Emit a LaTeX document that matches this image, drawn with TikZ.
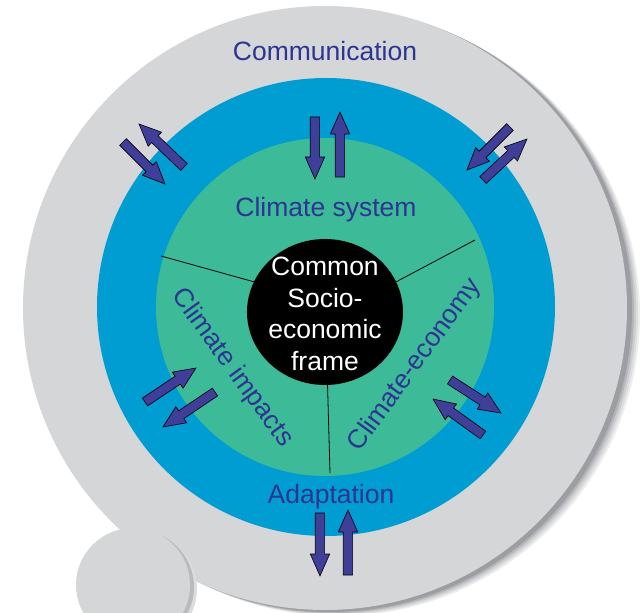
\documentclass[tikz,border=0pt]{standalone}
\usepackage{fontspec}
\setmainfont{Liberation Sans}
\usetikzlibrary{calc,shapes.geometric}
\definecolor{ringgray}{RGB}{213,214,216}
\definecolor{ringshade}{RGB}{140,141,145}
\definecolor{ringblue}{RGB}{0,157,210}
\definecolor{ringgreen}{RGB}{61,187,153}
\definecolor{arrowblue}{RGB}{63,63,153}
\definecolor{labelblue}{RGB}{45,52,145}
%% block arrow from tail #1 to tip #2
\newcommand{\blockarrow}[2]{%
  \coordinate (ba-h) at ($(#2)!22pt!(#1)$);
  \filldraw[arrowdecorate]
    ($(#1)!4.7pt!90:(#2)$) -- ($(ba-h)!4.7pt!90:(#2)$) -- ($(ba-h)!9.7pt!90:(#2)$)
    -- (#2) -- ($(ba-h)!9.7pt!-90:(#2)$) -- ($(ba-h)!4.7pt!-90:(#2)$)
    -- ($(#1)!4.7pt!-90:(#2)$) -- cycle;
}
\begin{document}
\begin{tikzpicture}
[x=1pt,y=1pt,
  ringlabel/.style={text=labelblue,font=\fontsize{26.5}{31.7}\selectfont,inner sep=0pt},%
  corenode/.style={shape=ellipse,fill=black,minimum width=156pt,minimum height=146pt,inner sep=0pt},%
  coretext/.style={text=white,align=center,font=\fontsize{26.5}{31.7}\selectfont,inner sep=0pt},%
  divider/.style={-,line width=0.8pt},%
  arrowdecorate/.style={fill=arrowblue,draw=black,line width=0.6pt,line join=miter}]
\useasboundingbox (-325,-305) rectangle (315,308);
\clip (-325,-305) rectangle (315,308);
%% rings, with a soft shadow
\foreach \dx/\dy/\shade in {13/-6/15, 11/-5/30, 9/-4/45, 7/-3/65, 5/-2/85} {
  \fill[ringshade!\shade] (\dx,\dy) circle (302);
}
\fill[ringgray] (0,0) circle (302);
\fill[ringshade!30] (-185,-281) circle (57);
\fill[ringshade!60] (-188,-279) circle (57);
\fill[ringgray] (-192,-277) circle (57);
\fill[ringblue] (1,1) circle (229);
\fill[ringgreen] (0,1) circle (169);
%% core and the three sectors
\node (core) at (0,-4) [corenode] {};
\node (frame) at (0,-6) [coretext] {Common\\Socio-\\economic\\frame};
\coordinate (cut-ul) at (-164,52);
\coordinate (cut-ur) at (150,68);
\coordinate (cut-b) at (5,-165);
\draw[divider] (core.157) -- (cut-ul);
\draw[divider] (core.23) -- (cut-ur);
\draw[divider] (core.272) -- (cut-b);
%% labels
\node (comm) at (0,247) [ringlabel,anchor=base] {Communication};
\node (climsys) at (1,91) [ringlabel,anchor=base] {Climate system};
\node (adapt) at (6,-195) [ringlabel,anchor=base] {Adaptation};
\node (impacts) at (-93,-60) [ringlabel,rotate=-54] {Climate impacts};
\node (economy) at (90,-57) [ringlabel,rotate=54] {Climate-economy};
%% arrows between the rings
\foreach \arrowname/\tx/\ty/\hx/\hy in {topin/-10/191/-10/129,
  topout/15/131/15/196, botin/-5/-205/-5/-268, botout/23/-267/23/-202,
  ulin/-202/166/-160/124, ulout/-141/141/-186/184,
  urin/185/181/142/138, urout/158/128/202/169,
  llout/-180/-94/-129/-60, llin/-110/-84/-162/-119,
  lrin/125/-72/176/-105, lrout/158/-127/108/-91} {
  \coordinate (\arrowname-tail) at (\tx,\ty);
  \coordinate (\arrowname-tip) at (\hx,\hy);
  \blockarrow{\arrowname-tail}{\arrowname-tip}
}
\end{tikzpicture}
\end{document}
